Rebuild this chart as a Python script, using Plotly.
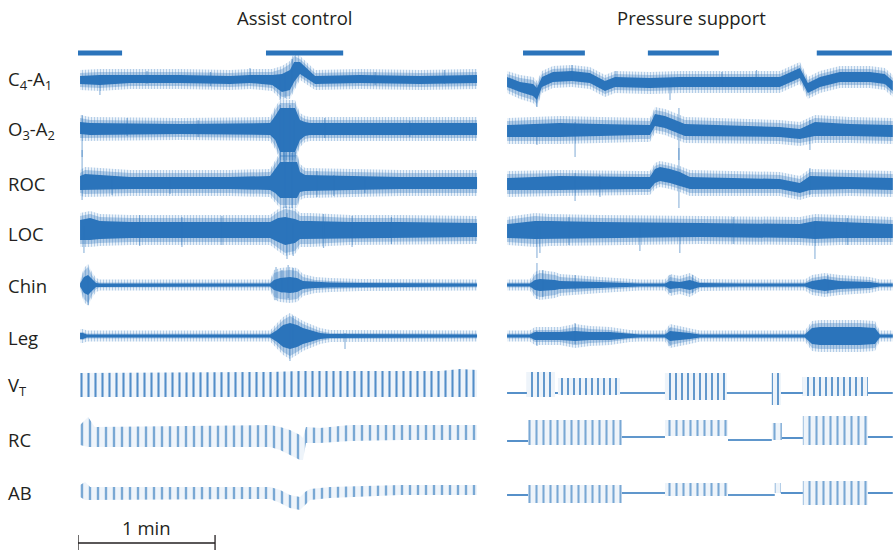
import plotly.graph_objects as go

# ---------------------------------------------------------------------------
# Polysomnography excerpt: assist-control vs pressure-support ventilation.
# Time in seconds from the start of each excerpt; amplitudes in display units
# (positive = upward deflection from the channel baseline).
# ---------------------------------------------------------------------------

channels = ["C<sub>4</sub>-A<sub>1</sub>", "O<sub>3</sub>-A<sub>2</sub>", "ROC", "LOC",
            "Chin", "Leg", "V<sub>T</sub>", "RC", "AB"]

# arousal / event markers (start, end) in seconds
ac_events_on = [0.0, 82.3]
ac_events_off = [19.3, 116.1]
ps_events_on = [7.9, 62.6, 136.6]
ps_events_off = [35.0, 93.7, 169.5]

# ---------------- C4-A1 ----------------
c4_ac_t = [0.9, 9.6, 22.8, 44.7, 66.6, 75.3, 85.0, 89.3, 92.8, 94.6, 97.2, 100.7, 103.8, 123.5, 149.8, 174.7]
c4_ac_mid = [0, 0, 1, 1, 0, 1, 0, -3, 0, 8, 12, 6, 0, 1, 0, 1]
c4_ac_core = [4, 5, 4, 4, 4, 4, 5, 9, 10, 10, 6, 5, 4, 4, 4, 4]
c4_ac_halo = [7, 8, 7, 7, 7, 7, 8, 14, 16, 16, 9, 8, 7, 7, 7, 7]
c4_ac_spk_t = [9.6, 30.2, 58.0, 75.3, 88.5, 90.7, 93.7, 130.1, 160.4]
c4_ac_spk_hi = [3, 9, 8, 12, 5, 5, 21, 8, 10]
c4_ac_spk_lo = [-15, -4, -6, -3, -20, -18, -5, -5, -4]

c4_ps_t = [0.9, 6.6, 12.3, 14.0, 16.2, 21.0, 29.3, 37.2, 43.8, 48.2, 63.5, 76.6, 120.4, 129.2, 132.7, 138.0, 146.7, 159.9, 166.4, 169.9]
c4_ps_mid = [-2, -7, -10, -14, -2, 3, 4, 2, -6, -2, -3, -2, -2, 7, -8, -2, 3, 3, 1, -6]
c4_ps_core = [5, 5, 6, 6, 5, 5, 5, 5, 5, 5, 5, 5, 5, 5, 5, 5, 5, 5, 5, 5]
c4_ps_halo = [8, 9, 10, 10, 8, 8, 8, 8, 8, 8, 8, 8, 8, 8, 8, 8, 8, 8, 8, 8]
c4_ps_spk_t = [14.0, 29.3, 48.6, 72.3, 95.0, 110.2]
c4_ps_spk_hi = [-5, 15, 9, 2, 8, 10]
c4_ps_spk_lo = [-27, 0, -4, -20, -5, -4]

# ---------------- O3-A2 ----------------
o3_ac_t = [0.9, 5.3, 44.7, 84.1, 86.3, 88.5, 95.0, 97.2, 99.4, 101.6, 141.0, 174.7]
o3_ac_mid = [2, 1, 1, 1, 2, 0, 0, 0, 1, 1, 1, 1]
o3_ac_core = [6, 6, 5, 6, 12, 22, 22, 10, 7, 6, 6, 6]
o3_ac_halo = [10, 9, 8, 9, 18, 27, 27, 14, 10, 9, 9, 9]
o3_ac_spk_t = [1.8, 21.5, 52.6, 88.5, 90.3, 92.8, 94.6, 108.0, 145.3]
o3_ac_spk_hi = [15, 12, 10, 25, 22, 25, 10, 12, 9]
o3_ac_spk_lo = [-27, -6, -7, -40, -45, -42, -35, -8, -7]

o3_ps_t = [0.9, 24.1, 41.6, 59.1, 63.5, 65.7, 70.1, 74.5, 78.8, 120.4, 129.2, 135.8, 151.1, 169.9]
o3_ps_mid = [-1, 0, 0, 0, 0, 10, 8, 4, 0, -2, -4, 1, 0, -1]
o3_ps_core = [6, 7, 6, 5, 5, 6, 6, 6, 6, 5, 5, 7, 6, 6]
o3_ps_halo = [10, 11, 10, 9, 9, 10, 10, 10, 10, 9, 9, 11, 10, 10]
o3_ps_spk_t = [14.0, 30.7, 76.2, 133.6]
o3_ps_spk_hi = [5, 8, 22, 10]
o3_ps_spk_lo = [-15, -27, -30, -20]

# ---------------- ROC ----------------
roc_ac_t = [0.9, 3.1, 22.8, 66.6, 84.1, 86.3, 88.5, 95.9, 97.2, 99.4, 114.7, 141.0, 174.7]
roc_ac_mid = [0, 1, 0, 0, 0, 2, 3, 3, 1, 0, 0, 0, 0]
roc_ac_core = [7, 8, 6, 6, 7, 12, 18, 18, 10, 8, 7, 6, 6]
roc_ac_halo = [10, 12, 10, 10, 11, 18, 25, 25, 15, 12, 11, 10, 10]
roc_ac_spk_t = [1.8, 14.9, 40.3, 90.7, 93.7, 104.6, 112.0, 125.6]
roc_ac_spk_hi = [33, 6, 5, 33, 30, 12, 8, 6]
roc_ac_spk_lo = [-17, -12, -11, -25, -25, -14, -13, -10]

roc_ps_t = [0.9, 24.1, 59.1, 63.5, 65.7, 67.9, 72.3, 76.6, 81.0, 120.4, 129.2, 133.6, 151.1, 169.9]
roc_ps_mid = [-1, 0, 0, 0, 7, 9, 7, 4, 0, -1, -5, 0, 0, -1]
roc_ps_core = [6, 7, 6, 6, 7, 7, 7, 7, 6, 5, 5, 7, 6, 6]
roc_ps_halo = [10, 10, 9, 9, 10, 10, 10, 10, 10, 9, 9, 11, 10, 10]
roc_ps_spk_t = [30.7, 41.6, 76.2, 133.6]
roc_ps_spk_hi = [10, 8, 35, 15]
roc_ps_spk_lo = [-18, -14, -25, -12]

# ---------------- LOC ----------------
loc_ac_t = [0.9, 5.3, 9.6, 22.8, 66.6, 84.1, 87.6, 90.7, 95.0, 97.2, 101.6, 119.1, 141.0, 174.7]
loc_ac_mid = [1, 2, 1, 1, 1, 1, 1, 0, 0, 1, 1, 1, 1, 1]
loc_ac_core = [10, 11, 9, 8, 8, 8, 12, 14, 12, 9, 9, 8, 8, 7]
loc_ac_halo = [14, 15, 13, 12, 12, 12, 18, 22, 20, 14, 14, 12, 12, 11]
loc_ac_spk_t = [2.6, 27.0, 45.5, 63.0, 91.5, 94.2, 107.5, 120.0, 137.2]
loc_ac_spk_hi = [5, 16, 14, 15, 18, 8, 17, 15, 14]
loc_ac_spk_lo = [-22, -15, -16, -14, -28, -25, -17, -16, -13]

loc_ps_t = [0.9, 13.1, 19.7, 41.6, 85.4, 129.2, 135.8, 146.7, 169.9]
loc_ps_mid = [0, 1, 1, 1, 1, 0, 1, 1, 0]
loc_ps_core = [7, 9, 9, 8, 7, 7, 9, 8, 7]
loc_ps_halo = [11, 14, 13, 12, 11, 11, 13, 12, 11]
loc_ps_spk_t = [14.0, 15.3, 28.0, 59.1, 76.6, 100.0, 135.8, 150.0]
loc_ps_spk_hi = [5, 5, 14, 5, 5, 14, 8, 13]
loc_ps_spk_lo = [-27, -22, -14, -20, -22, -13, -28, -14]

# ---------------- Chin EMG ----------------
chin_ac_t = [0.9, 2.6, 4.4, 6.1, 7.9, 9.6, 84.1, 85.8, 88.5, 92.8, 95.9, 98.5, 103.8, 110.4, 123.5, 174.7]
chin_ac_mid = [0] * 16
chin_ac_core = [1.5, 8, 10, 6, 2, 1.5, 1.5, 5, 7, 8, 7, 4, 3, 2.5, 2, 1.5]
chin_ac_halo = [2.5, 14, 18, 10, 4, 2.5, 2.5, 12, 14, 15, 14, 8, 5, 4, 3, 2.5]
chin_ac_spk_t = [4.4, 86.7, 89.3, 92.0, 94.2]
chin_ac_spk_hi = [8, 18, 15, 20, 17]
chin_ac_spk_lo = [-20, -15, -8, -13, -8]

chin_ps_t = [0.9, 10.9, 13.1, 15.3, 21.9, 24.1, 41.6, 54.7, 59.1, 70.1, 72.3, 76.6, 81.0, 85.4, 98.5,
             102.9, 131.4, 134.5, 140.1, 146.7, 159.9, 164.2, 169.9]
chin_ps_mid = [0] * 23
chin_ps_core = [1.5, 1.5, 5, 6, 5, 4, 3, 2, 1.5, 1.5, 4, 3, 5, 2, 1.5, 1.5, 1.5, 4, 6, 4, 3, 1.5, 1.5]
chin_ps_halo = [2.5, 2.5, 10, 12, 10, 8, 5, 3, 2.5, 2.5, 8, 6, 9, 3, 2.5, 2.5, 2.5, 7, 9, 7, 5, 2.5, 2.5]
chin_ps_spk_t = [14.0, 16.6, 30.7, 72.3, 82.3, 141.5]
chin_ps_spk_hi = [22, 15, 10, 10, 10, 10]
chin_ps_spk_lo = [-14, -12, -5, -8, -8, -8]

# ---------------- Leg EMG ----------------
leg_ac_t = [0.9, 2.2, 3.9, 84.1, 87.2, 89.8, 92.8, 95.9, 98.5, 101.6, 106.0, 110.4, 141.0, 174.7]
leg_ac_mid = [0] * 14
leg_ac_core = [3, 3, 1.5, 1.5, 6, 11, 13, 11, 8, 6, 3, 2, 1.5, 1.5]
leg_ac_halo = [4, 4, 2.5, 2.5, 10, 16, 20, 16, 12, 9, 5, 3, 2.5, 2.5]
leg_ac_spk_t = [92.8, 94.2, 116.9]
leg_ac_spk_hi = [10, 20, 3]
leg_ac_spk_lo = [-25, -10, -13]

leg_ps_t = [0.9, 10.9, 13.1, 24.1, 30.7, 37.2, 46.0, 54.7, 59.1, 70.1, 72.3, 81.0, 85.4, 131.4, 134.5,
            138.0, 155.5, 162.1, 164.2, 169.9]
leg_ps_mid = [0] * 20
leg_ps_core = [1.5, 1.5, 4, 4, 5, 4, 4, 2, 1.5, 1.5, 5, 3, 1.5, 1.5, 8, 9, 9, 8, 1.5, 1.5]
leg_ps_halo = [2.5, 2.5, 6, 6, 9, 7, 6, 3, 2.5, 2.5, 9, 5, 2.5, 2.5, 12, 13, 13, 12, 2.5, 2.5]
leg_ps_spk_t = [14.0, 30.7, 72.3]
leg_ps_spk_hi = [5, 13, 8]
leg_ps_spk_lo = [-10, -8, -10]

# ---------------- Tidal volume (VT) ----------------
vt_ac_t = [0.9, 84.1, 97.2, 158.5, 167.3, 174.7]
vt_ac_hi = [20, 21, 22, 22, 24, 23]
vt_ac_lo = [-4, -4, -4, -4, -4, -4]

vt_ps_on = [9.6, 23.2, 70.1, 116.9, 130.5]
vt_ps_off = [21.9, 50.4, 97.2, 120.9, 159.0]
vt_ps_hi = [21, 15, 20, 20, 16]
vt_ps_lo = [-4, -2, -7, -12, -3]
vt_ps_gap_level = [0, 0, 0, 0, 0, 0]   # flat trace before/between/after bursts

# ---------------- Rib cage (RC) ----------------
rc_ac_t = [0.9, 4.4, 7.4, 84.1, 88.5, 92.8, 97.2, 98.5, 99.8, 105.9, 119.1, 141.0, 174.7]
rc_ac_hi = [15, 23, 13, 15, 13, 10, 5, 2, 13, 12, 15, 15, 15]
rc_ac_lo = [-5, -7, -7, -7, -10, -15, -20, -20, -3, -3, -1, 0, 0]

rc_ps_on = [10.1, 70.1, 116.9, 130.5]
rc_ps_off = [51.2, 97.7, 121.3, 159.0]
rc_ps_hi = [20, 20, 17, 24]
rc_ps_lo = [-5, 4, 0, -5]
rc_ps_gap_level = [-1, 3, 0, 2, 3]

# ---------------- Abdomen (AB) ----------------
ab_ac_t = [0.9, 3.1, 5.3, 84.1, 88.5, 92.8, 97.2, 99.4, 101.6, 110.4, 141.0, 174.7]
ab_ac_hi = [10, 13, 8, 8, 5, 0, -2, 3, 6, 8, 10, 10]
ab_ac_lo = [-2, -5, -5, -4, -8, -13, -15, -10, -5, -3, 0, 0]

ab_ps_on = [10.1, 70.1, 118.2, 130.5]
ab_ps_off = [51.2, 97.7, 120.9, 159.0]
ab_ps_hi = [10, 12, 12, 14]
ab_ps_lo = [-8, -1, 2, -10]
ab_ps_gap_level = [0, 2, 0, 2, 2]

# ---------------------------------------------------------------------------
# layout constants
# ---------------------------------------------------------------------------
W, H = 893, 551
BLUE = "#2b74bb"
HALO = "rgba(43,116,187,0.32)"
SPIKE = "rgba(43,116,187,0.5)"
INK = "#231f20"
FONT = "Open Sans"
FS = 18.5
PS_START, PS_END = 0.9, 169.9

row_base = {"c4": 80, "o3": 130, "roc": 183, "loc": 231, "chin": 285, "leg": 336,
            "vt": 393, "rc": 440, "ab": 495}
label_y = [80, 130, 183, 233, 285, 337, 386, 439, 492]
event_y = 53

fig = go.Figure()


def add_band(xa, t, upper, lower, **style):
    fig.add_trace(go.Scatter(
        x=list(t) + list(t)[::-1], y=list(upper) + list(lower)[::-1],
        mode="lines", fill="toself", line=dict(width=0),
        xaxis=xa, yaxis="y", hoverinfo="skip", showlegend=False, **style))


def add_eeg(xa, base, t, mid, core, halo, st, shi, slo):
    # fuzzy outer edge (fine vertical hatching), semi-transparent halo, dense core
    add_band(xa, t, [base - (m + h + 3) for m, h in zip(mid, halo)],
             [base - (m - h - 3) for m, h in zip(mid, halo)],
             fillcolor="rgba(43,116,187,0.08)",
             fillpattern=dict(shape="|", size=3, solidity=0.4, fgcolor=BLUE,
                              bgcolor="rgba(43,116,187,0.08)", fgopacity=0.3))
    add_band(xa, t, [base - (m + h) for m, h in zip(mid, halo)],
             [base - (m - h) for m, h in zip(mid, halo)], fillcolor=HALO)
    add_band(xa, t, [base - (m + c) for m, c in zip(mid, core)],
             [base - (m - c) for m, c in zip(mid, core)], fillcolor=BLUE)
    xs, ys = [], []
    for tt, hi, lo in zip(st, shi, slo):
        xs += [tt, tt, None]
        ys += [base - hi, base - lo, None]
    fig.add_trace(go.Scatter(x=xs, y=ys, mode="lines", line=dict(color=SPIKE, width=1.2),
                             xaxis=xa, yaxis="y", hoverinfo="skip", showlegend=False))


def resp_pattern(size, opacity):
    return dict(shape="|", size=size, solidity=0.3, fgcolor=BLUE,
                bgcolor="rgba(43,116,187,0.08)", fgopacity=opacity)


def add_resp_band(xa, base, t, hi, lo, size=7, opacity=0.85):
    add_band(xa, t, [base - v for v in hi], [base - v for v in lo],
             fillcolor="rgba(43,116,187,0.08)", fillpattern=resp_pattern(size, opacity))


def add_resp_bursts(xa, base, on, off, hi, lo, gaps, size=6, opacity=0.85):
    # flat trace segments between bursts
    edges = [PS_START] + [v for pair in zip(on, off) for v in pair] + [PS_END]
    xs, ys = [], []
    for i, lvl in enumerate(gaps):
        xs += [edges[2 * i], edges[2 * i + 1], None]
        ys += [base - lvl, base - lvl, None]
    fig.add_trace(go.Scatter(x=xs, y=ys, mode="lines", line=dict(color=BLUE, width=1.6),
                             xaxis=xa, yaxis="y", hoverinfo="skip", showlegend=False))
    for a, b, h, l in zip(on, off, hi, lo):
        add_band(xa, [a, b], [base - h, base - h], [base - l, base - l],
                 fillcolor="rgba(43,116,187,0.08)", fillpattern=resp_pattern(size, opacity))


# EEG / EOG / EMG channels
eeg_sets = [
    ("c4", c4_ac_t, c4_ac_mid, c4_ac_core, c4_ac_halo, c4_ac_spk_t, c4_ac_spk_hi, c4_ac_spk_lo,
     c4_ps_t, c4_ps_mid, c4_ps_core, c4_ps_halo, c4_ps_spk_t, c4_ps_spk_hi, c4_ps_spk_lo),
    ("o3", o3_ac_t, o3_ac_mid, o3_ac_core, o3_ac_halo, o3_ac_spk_t, o3_ac_spk_hi, o3_ac_spk_lo,
     o3_ps_t, o3_ps_mid, o3_ps_core, o3_ps_halo, o3_ps_spk_t, o3_ps_spk_hi, o3_ps_spk_lo),
    ("roc", roc_ac_t, roc_ac_mid, roc_ac_core, roc_ac_halo, roc_ac_spk_t, roc_ac_spk_hi, roc_ac_spk_lo,
     roc_ps_t, roc_ps_mid, roc_ps_core, roc_ps_halo, roc_ps_spk_t, roc_ps_spk_hi, roc_ps_spk_lo),
    ("loc", loc_ac_t, loc_ac_mid, loc_ac_core, loc_ac_halo, loc_ac_spk_t, loc_ac_spk_hi, loc_ac_spk_lo,
     loc_ps_t, loc_ps_mid, loc_ps_core, loc_ps_halo, loc_ps_spk_t, loc_ps_spk_hi, loc_ps_spk_lo),
    ("chin", chin_ac_t, chin_ac_mid, chin_ac_core, chin_ac_halo, chin_ac_spk_t, chin_ac_spk_hi, chin_ac_spk_lo,
     chin_ps_t, chin_ps_mid, chin_ps_core, chin_ps_halo, chin_ps_spk_t, chin_ps_spk_hi, chin_ps_spk_lo),
    ("leg", leg_ac_t, leg_ac_mid, leg_ac_core, leg_ac_halo, leg_ac_spk_t, leg_ac_spk_hi, leg_ac_spk_lo,
     leg_ps_t, leg_ps_mid, leg_ps_core, leg_ps_halo, leg_ps_spk_t, leg_ps_spk_hi, leg_ps_spk_lo),
]
for key, *arrs in eeg_sets:
    base = row_base[key]
    add_eeg("x", base, *arrs[:7])
    add_eeg("x2", base, *arrs[7:])

# respiratory channels
add_resp_band("x", row_base["vt"], vt_ac_t, vt_ac_hi, vt_ac_lo, size=7, opacity=0.8)
add_resp_bursts("x2", row_base["vt"], vt_ps_on, vt_ps_off, vt_ps_hi, vt_ps_lo, vt_ps_gap_level,
                size=6, opacity=0.8)

add_resp_band("x", row_base["rc"], rc_ac_t, rc_ac_hi, rc_ac_lo, size=8, opacity=0.6)
add_resp_bursts("x2", row_base["rc"], rc_ps_on, rc_ps_off, rc_ps_hi, rc_ps_lo, rc_ps_gap_level,
                size=7, opacity=0.6)

add_resp_band("x", row_base["ab"], ab_ac_t, ab_ac_hi, ab_ac_lo, size=8, opacity=0.6)
add_resp_bursts("x2", row_base["ab"], ab_ps_on, ab_ps_off, ab_ps_hi, ab_ps_lo, ab_ps_gap_level,
                size=7, opacity=0.6)

# event bars
for xa, on, off in (("x", ac_events_on, ac_events_off), ("x2", ps_events_on, ps_events_off)):
    xs, ys = [], []
    for a, b in zip(on, off):
        xs += [a, b, None]
        ys += [event_y, event_y, None]
    fig.add_trace(go.Scatter(x=xs, y=ys, mode="lines", line=dict(color=BLUE, width=5),
                             xaxis=xa, yaxis="y", hoverinfo="skip", showlegend=False))

# 1-minute scale bar
fig.add_trace(go.Scatter(x=[0, 60, None, 0, 0, None, 60, 60],
                         y=[543, 543, None, 535, 550, None, 535, 550],
                         mode="lines", line=dict(color=INK, width=1.3),
                         xaxis="x", yaxis="y", hoverinfo="skip", showlegend=False))

annotations = [
    dict(x=30, y=527, xref="x", yref="y", text="1 min", showarrow=False, xanchor="center",
         font=dict(family=FONT, size=FS, color=INK)),
    dict(x=295 / W, y=17, xref="paper", yref="y", text="Assist control", showarrow=False,
         xanchor="center", font=dict(family=FONT, size=FS, color=INK)),
    dict(x=691 / W, y=17, xref="paper", yref="y", text="Pressure support", showarrow=False,
         xanchor="center", font=dict(family=FONT, size=FS, color=INK)),
]
for name, yy in zip(channels, label_y):
    annotations.append(dict(x=6 / W, y=yy, xref="paper", yref="y", text=name, showarrow=False,
                            xanchor="left", yanchor="middle",
                            font=dict(family=FONT, size=FS, color=INK)))

axis_off = dict(showgrid=False, zeroline=False, showticklabels=False, ticks="", showline=False)
fig.update_layout(
    width=W, height=H, margin=dict(l=0, r=0, t=0, b=0),
    paper_bgcolor="white", plot_bgcolor="white", showlegend=False,
    xaxis=dict(domain=[78 / W, 480 / W], range=[0, 176], anchor="y", **axis_off),
    xaxis2=dict(domain=[505 / W, 1.0], range=[0, 170], anchor="y", **axis_off),
    yaxis=dict(domain=[0, 1], range=[H, 0], **axis_off),
    annotations=annotations,
)

fig.write_html("out.html")
